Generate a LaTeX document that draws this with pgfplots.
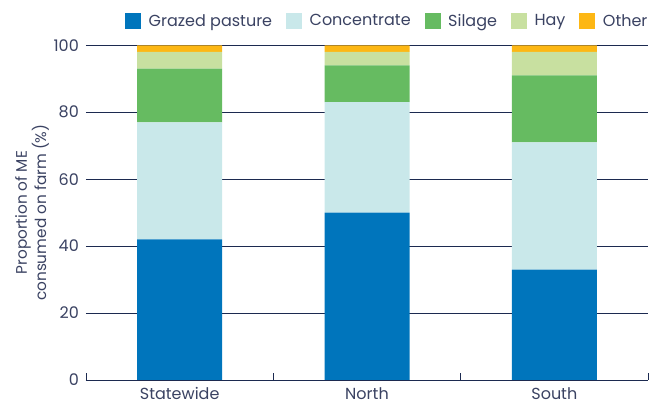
\documentclass[border=0pt]{standalone}
\usepackage{fontspec}
\setmainfont{Poppins}
\usepackage{pgfplots}
\pgfplotsset{compat=1.18}

\definecolor{grazed}{HTML}{0075BC}
\definecolor{conc}{HTML}{C9E8EA}
\definecolor{silage}{HTML}{66BB61}
\definecolor{hay}{HTML}{C8E0A0}
\definecolor{other}{HTML}{FDB714}
\definecolor{txt}{HTML}{3A4262}
\definecolor{rule}{HTML}{1C2A50}

\begin{document}
\begin{tikzpicture}[x=1pt,y=1pt]
\path[use as bounding box] (-86,-23) rectangle (574,380);
\begin{axis}[
  at={(0,0)}, anchor=south west,
  scale only axis,
  width=562pt, height=334.7pt,
  ybar stacked,
  bar width=85pt,
  xmin=-0.5, xmax=2.5,
  ymin=0, ymax=100,
  xtick={0,1,2},
  xticklabels={Statewide,North,South},
  minor xtick={-0.5,0.5,1.5,2.5},
  ytick={0,20,40,60,80,100},
  major tick length=0pt,
  minor tick length=7pt,
  tick align=inside,
  ymajorgrids,
  grid style={rule, line width=0.8pt},
  axis lines*=left,
  x axis line style={rule, line width=0.8pt, -},
  y axis line style={draw=none},
  minor tick style={rule, line width=0.8pt},
  major tick style={draw=none},
  /pgf/number format/assume math mode=true,
  tick label style={font=\fontsize{16}{18}\selectfont, text=txt},
  yticklabel style={inner sep=0pt, xshift=-7pt},
  xticklabel style={inner sep=0pt, yshift=-7.5pt, text depth=0pt},
  ylabel={Proportion of ME\\consumed on farm (\%)},
  ylabel style={at={(axis description cs:-0.0961,0.5)}, anchor=center,
    align=center, font=\fontsize{15.3}{17}\selectfont, text=txt},
  legend columns=5,
  legend style={draw=none, fill=none, inner sep=0pt,
    at={(axis description cs:0.0694,1.0726)}, anchor=west,
    font=\fontsize{16}{18}\selectfont, text=txt,
    nodes={inner sep=0pt, anchor=west},
    /tikz/every odd column/.append style={column sep=7.5pt},
    /tikz/every even column/.append style={column sep=14pt}},
  legend image code/.code={\fill[#1] (0pt,-8pt) rectangle (16pt,8pt);},
]
\addplot[fill=grazed, draw=none] coordinates {(0,42) (1,50) (2,33)};
\addplot[fill=conc, draw=none] coordinates {(0,35) (1,33) (2,38)};
\addplot[fill=silage, draw=none] coordinates {(0,16) (1,11) (2,20)};
\addplot[fill=hay, draw=none] coordinates {(0,5) (1,4) (2,7)};
\addplot[fill=other, draw=none] coordinates {(0,2) (1,2) (2,2)};
\legend{Grazed pasture,Concentrate,Silage,Hay,Other}
\end{axis}
\end{tikzpicture}
\end{document}
